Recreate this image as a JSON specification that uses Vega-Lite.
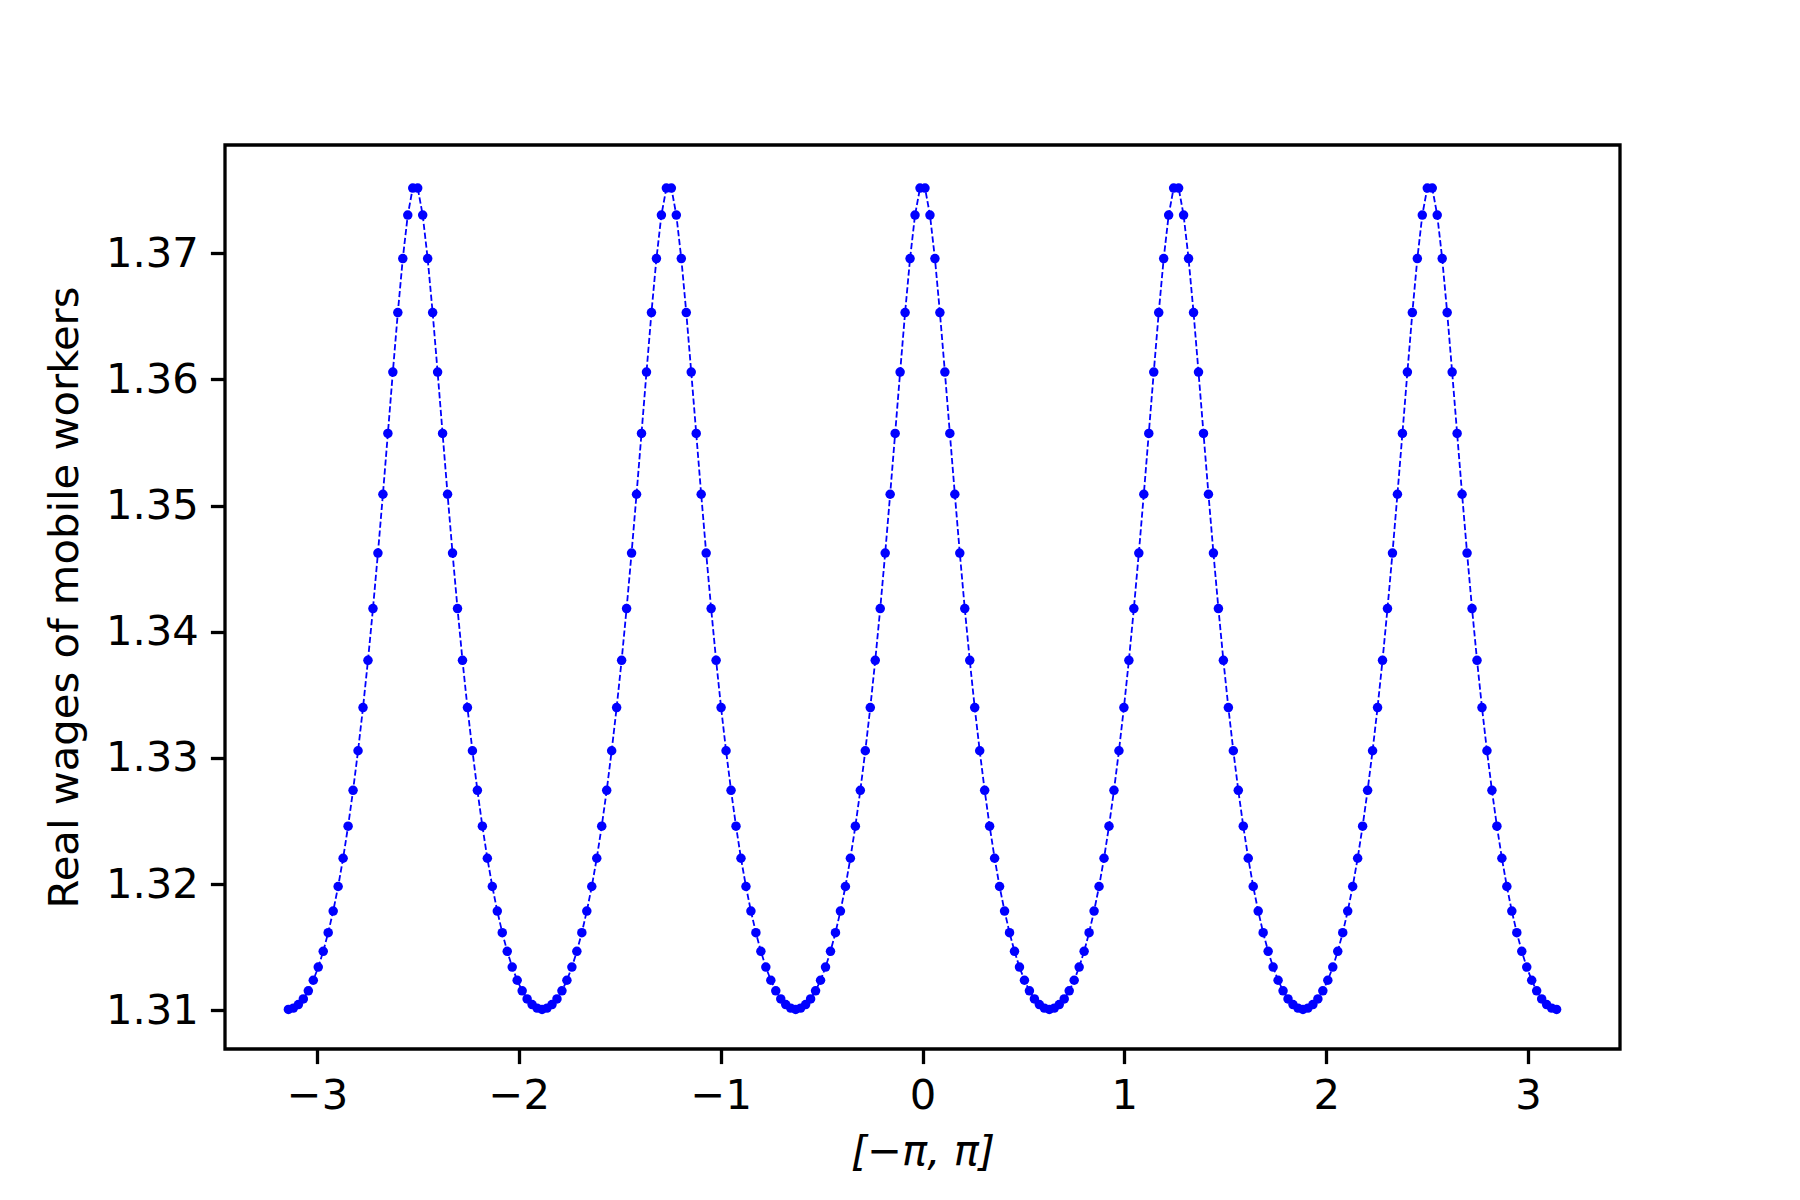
{
"$schema": "https://vega.github.io/schema/vega-lite/v6.json",
"width": 1395,
"height": 904,
"autosize": {"type": "none"},
"padding": {"left": 225, "top": 145, "right": 180, "bottom": 151},
"background": "white",
"config": {
  "font": "DejaVu Sans",
  "view": {"stroke": "black", "strokeWidth": 3.3},
  "axis": {"grid": false, "domain": false, "tickColor": "black", "tickSize": 14.6, "tickWidth": 3.3, "labelColor": "black", "labelFontSize": 41.7, "labelPadding": 12, "titleColor": "black", "titleFontSize": 41.7, "titleFontWeight": "normal", "labelFont": "DejaVu Sans", "titleFont": "DejaVu Sans"}
},
"data": {"values": [
{"x":-3.1416,"y":1.31007},{"x":-3.1170,"y":1.31017},{"x":-3.0923,"y":1.31045},{"x":-3.0677,"y":1.31090},{"x":-3.0430,"y":1.31154},{"x":-3.0184,"y":1.31238},{"x":-2.9938,"y":1.31342},{"x":-2.9691,"y":1.31467},{"x":-2.9445,"y":1.31615},{"x":-2.9198,"y":1.31786},{"x":-2.8952,"y":1.31981},{"x":-2.8706,"y":1.32205},{"x":-2.8459,"y":1.32459},{"x":-2.8213,"y":1.32743},{"x":-2.7966,"y":1.33057},{"x":-2.7720,"y":1.33399},{"x":-2.7474,"y":1.33774},{"x":-2.7227,"y":1.34184},{"x":-2.6981,"y":1.34624},{"x":-2.6734,"y":1.35090},{"x":-2.6488,"y":1.35572},{"x":-2.6242,"y":1.36058},{"x":-2.5995,"y":1.36530},{"x":-2.5749,"y":1.36958},{"x":-2.5502,"y":1.37303},{"x":-2.5256,"y":1.37517},{"x":-2.5010,"y":1.37517},{"x":-2.4763,"y":1.37303},{"x":-2.4517,"y":1.36958},{"x":-2.4270,"y":1.36530},{"x":-2.4024,"y":1.36058},{"x":-2.3778,"y":1.35572},{"x":-2.3531,"y":1.35090},{"x":-2.3285,"y":1.34624},{"x":-2.3038,"y":1.34184},{"x":-2.2792,"y":1.33774},{"x":-2.2546,"y":1.33399},{"x":-2.2299,"y":1.33057},{"x":-2.2053,"y":1.32743},{"x":-2.1806,"y":1.32459},{"x":-2.1560,"y":1.32205},{"x":-2.1314,"y":1.31981},{"x":-2.1067,"y":1.31786},{"x":-2.0821,"y":1.31615},{"x":-2.0574,"y":1.31467},{"x":-2.0328,"y":1.31342},{"x":-2.0082,"y":1.31238},{"x":-1.9835,"y":1.31154},{"x":-1.9589,"y":1.31090},{"x":-1.9342,"y":1.31045},{"x":-1.9096,"y":1.31017},
{"x":-1.8850,"y":1.31007},{"x":-1.8603,"y":1.31017},{"x":-1.8357,"y":1.31045},{"x":-1.8110,"y":1.31090},{"x":-1.7864,"y":1.31154},{"x":-1.7618,"y":1.31238},{"x":-1.7371,"y":1.31342},{"x":-1.7125,"y":1.31467},{"x":-1.6878,"y":1.31615},{"x":-1.6632,"y":1.31786},{"x":-1.6386,"y":1.31981},{"x":-1.6139,"y":1.32205},{"x":-1.5893,"y":1.32459},{"x":-1.5646,"y":1.32743},{"x":-1.5400,"y":1.33057},{"x":-1.5154,"y":1.33399},{"x":-1.4907,"y":1.33774},{"x":-1.4661,"y":1.34184},{"x":-1.4414,"y":1.34624},{"x":-1.4168,"y":1.35090},{"x":-1.3922,"y":1.35572},{"x":-1.3675,"y":1.36058},{"x":-1.3429,"y":1.36530},{"x":-1.3182,"y":1.36958},{"x":-1.2936,"y":1.37303},{"x":-1.2690,"y":1.37517},{"x":-1.2443,"y":1.37517},{"x":-1.2197,"y":1.37303},{"x":-1.1950,"y":1.36958},{"x":-1.1704,"y":1.36530},{"x":-1.1458,"y":1.36058},{"x":-1.1211,"y":1.35572},{"x":-1.0965,"y":1.35090},{"x":-1.0718,"y":1.34624},{"x":-1.0472,"y":1.34184},{"x":-1.0226,"y":1.33774},{"x":-0.9979,"y":1.33399},{"x":-0.9733,"y":1.33057},{"x":-0.9486,"y":1.32743},{"x":-0.9240,"y":1.32459},{"x":-0.8994,"y":1.32205},{"x":-0.8747,"y":1.31981},{"x":-0.8501,"y":1.31786},{"x":-0.8254,"y":1.31615},{"x":-0.8008,"y":1.31467},{"x":-0.7762,"y":1.31342},{"x":-0.7515,"y":1.31238},{"x":-0.7269,"y":1.31154},{"x":-0.7022,"y":1.31090},{"x":-0.6776,"y":1.31045},{"x":-0.6530,"y":1.31017},
{"x":-0.6283,"y":1.31007},{"x":-0.6037,"y":1.31017},{"x":-0.5790,"y":1.31045},{"x":-0.5544,"y":1.31090},{"x":-0.5298,"y":1.31154},{"x":-0.5051,"y":1.31238},{"x":-0.4805,"y":1.31342},{"x":-0.4558,"y":1.31467},{"x":-0.4312,"y":1.31615},{"x":-0.4066,"y":1.31786},{"x":-0.3819,"y":1.31981},{"x":-0.3573,"y":1.32205},{"x":-0.3326,"y":1.32459},{"x":-0.3080,"y":1.32743},{"x":-0.2834,"y":1.33057},{"x":-0.2587,"y":1.33399},{"x":-0.2341,"y":1.33774},{"x":-0.2094,"y":1.34184},{"x":-0.1848,"y":1.34624},{"x":-0.1602,"y":1.35090},{"x":-0.1355,"y":1.35572},{"x":-0.1109,"y":1.36058},{"x":-0.0862,"y":1.36530},{"x":-0.0616,"y":1.36958},{"x":-0.0370,"y":1.37303},{"x":-0.0123,"y":1.37517},{"x":0.0123,"y":1.37517},{"x":0.0370,"y":1.37303},{"x":0.0616,"y":1.36958},{"x":0.0862,"y":1.36530},{"x":0.1109,"y":1.36058},{"x":0.1355,"y":1.35572},{"x":0.1602,"y":1.35090},{"x":0.1848,"y":1.34624},{"x":0.2094,"y":1.34184},{"x":0.2341,"y":1.33774},{"x":0.2587,"y":1.33399},{"x":0.2834,"y":1.33057},{"x":0.3080,"y":1.32743},{"x":0.3326,"y":1.32459},{"x":0.3573,"y":1.32205},{"x":0.3819,"y":1.31981},{"x":0.4066,"y":1.31786},{"x":0.4312,"y":1.31615},{"x":0.4558,"y":1.31467},{"x":0.4805,"y":1.31342},{"x":0.5051,"y":1.31238},{"x":0.5298,"y":1.31154},{"x":0.5544,"y":1.31090},{"x":0.5790,"y":1.31045},{"x":0.6037,"y":1.31017},
{"x":0.6283,"y":1.31007},{"x":0.6530,"y":1.31017},{"x":0.6776,"y":1.31045},{"x":0.7022,"y":1.31090},{"x":0.7269,"y":1.31154},{"x":0.7515,"y":1.31238},{"x":0.7762,"y":1.31342},{"x":0.8008,"y":1.31467},{"x":0.8254,"y":1.31615},{"x":0.8501,"y":1.31786},{"x":0.8747,"y":1.31981},{"x":0.8994,"y":1.32205},{"x":0.9240,"y":1.32459},{"x":0.9486,"y":1.32743},{"x":0.9733,"y":1.33057},{"x":0.9979,"y":1.33399},{"x":1.0226,"y":1.33774},{"x":1.0472,"y":1.34184},{"x":1.0718,"y":1.34624},{"x":1.0965,"y":1.35090},{"x":1.1211,"y":1.35572},{"x":1.1458,"y":1.36058},{"x":1.1704,"y":1.36530},{"x":1.1950,"y":1.36958},{"x":1.2197,"y":1.37303},{"x":1.2443,"y":1.37517},{"x":1.2690,"y":1.37517},{"x":1.2936,"y":1.37303},{"x":1.3182,"y":1.36958},{"x":1.3429,"y":1.36530},{"x":1.3675,"y":1.36058},{"x":1.3922,"y":1.35572},{"x":1.4168,"y":1.35090},{"x":1.4414,"y":1.34624},{"x":1.4661,"y":1.34184},{"x":1.4907,"y":1.33774},{"x":1.5154,"y":1.33399},{"x":1.5400,"y":1.33057},{"x":1.5646,"y":1.32743},{"x":1.5893,"y":1.32459},{"x":1.6139,"y":1.32205},{"x":1.6386,"y":1.31981},{"x":1.6632,"y":1.31786},{"x":1.6878,"y":1.31615},{"x":1.7125,"y":1.31467},{"x":1.7371,"y":1.31342},{"x":1.7618,"y":1.31238},{"x":1.7864,"y":1.31154},{"x":1.8110,"y":1.31090},{"x":1.8357,"y":1.31045},{"x":1.8603,"y":1.31017},
{"x":1.8850,"y":1.31007},{"x":1.9096,"y":1.31017},{"x":1.9342,"y":1.31045},{"x":1.9589,"y":1.31090},{"x":1.9835,"y":1.31154},{"x":2.0082,"y":1.31238},{"x":2.0328,"y":1.31342},{"x":2.0574,"y":1.31467},{"x":2.0821,"y":1.31615},{"x":2.1067,"y":1.31786},{"x":2.1314,"y":1.31981},{"x":2.1560,"y":1.32205},{"x":2.1806,"y":1.32459},{"x":2.2053,"y":1.32743},{"x":2.2299,"y":1.33057},{"x":2.2546,"y":1.33399},{"x":2.2792,"y":1.33774},{"x":2.3038,"y":1.34184},{"x":2.3285,"y":1.34624},{"x":2.3531,"y":1.35090},{"x":2.3778,"y":1.35572},{"x":2.4024,"y":1.36058},{"x":2.4270,"y":1.36530},{"x":2.4517,"y":1.36958},{"x":2.4763,"y":1.37303},{"x":2.5010,"y":1.37517},{"x":2.5256,"y":1.37517},{"x":2.5502,"y":1.37303},{"x":2.5749,"y":1.36958},{"x":2.5995,"y":1.36530},{"x":2.6242,"y":1.36058},{"x":2.6488,"y":1.35572},{"x":2.6734,"y":1.35090},{"x":2.6981,"y":1.34624},{"x":2.7227,"y":1.34184},{"x":2.7474,"y":1.33774},{"x":2.7720,"y":1.33399},{"x":2.7966,"y":1.33057},{"x":2.8213,"y":1.32743},{"x":2.8459,"y":1.32459},{"x":2.8706,"y":1.32205},{"x":2.8952,"y":1.31981},{"x":2.9198,"y":1.31786},{"x":2.9445,"y":1.31615},{"x":2.9691,"y":1.31467},{"x":2.9938,"y":1.31342},{"x":3.0184,"y":1.31238},{"x":3.0430,"y":1.31154},{"x":3.0677,"y":1.31090},{"x":3.0923,"y":1.31045},{"x":3.1170,"y":1.31017},
{"x":3.1416,"y":1.31007}
]},
"encoding": {
  "x": {"field": "x", "type": "quantitative", "scale": {"domain": [-3.4558, 3.4558], "nice": false, "zero": false},
    "axis": {"title": "[−π, π]", "titleFontStyle": "italic", "values": [-3, -2, -1, 0, 1, 2, 3], "format": "d", "titlePadding": 14}},
  "y": {"field": "y", "type": "quantitative", "scale": {"domain": [1.30693, 1.37858], "nice": false, "zero": false},
    "axis": {"title": "Real wages of mobile workers", "values": [1.31, 1.32, 1.33, 1.34, 1.35, 1.36, 1.37], "format": ".2f", "titlePadding": 19}}
},
"layer": [
  {"mark": {"type": "line", "color": "#0000ff", "strokeWidth": 1.8, "strokeDash": [6.2, 2.7], "clip": true}},
  {"mark": {"type": "point", "shape": "circle", "filled": true, "color": "#0000ff", "size": 90, "opacity": 1}}
]
}
